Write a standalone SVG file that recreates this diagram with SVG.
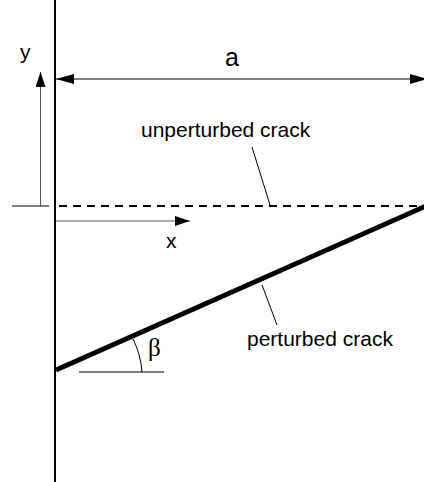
<svg xmlns="http://www.w3.org/2000/svg" width="424" height="482" viewBox="0 0 424 482">
<defs>
<style>
.t{font-family:"Liberation Sans",Arial,sans-serif;fill:#000}
.thin{stroke:#000;stroke-width:1;fill:none}
.gray{stroke:#555;stroke-width:1;fill:none}
</style>
<marker id="ah" viewBox="0 0 18 10" refX="18" refY="5" markerWidth="18" markerHeight="10" markerUnits="userSpaceOnUse" orient="auto-start-reverse">
<path d="M0,0 L18,5 L0,10 Z" fill="#000"/>
</marker>
<marker id="ah2" viewBox="0 0 15 10" refX="15" refY="5" markerWidth="15" markerHeight="10" markerUnits="userSpaceOnUse" orient="auto">
<path d="M0,0 L15,5 L0,10 Z" fill="#000"/>
</marker>
</defs>
<rect width="424" height="482" fill="#fff"/>
<g id="connectors">
<line id="axis" x1="55" y1="0" x2="55" y2="482" stroke="#000" stroke-width="2"/>
<line id="dim-a" x1="56" y1="79" x2="428" y2="79" class="thin" marker-start="url(#ah)" marker-end="url(#ah)"/>
<line id="y-arrow" x1="40.5" y1="206" x2="40.5" y2="72" class="gray" marker-end="url(#ah2)"/>
<line id="y-tick" x1="12" y1="206" x2="49" y2="206" class="thin"/>
<line id="x-arrow" x1="56" y1="221" x2="190" y2="221" class="gray" marker-end="url(#ah2)"/>
<line id="unperturbed" x1="59" y1="206" x2="424" y2="206" stroke="#000" stroke-width="1.8" stroke-dasharray="8 6"/>
<line id="perturbed" x1="56" y1="370" x2="426" y2="206" stroke="#000" stroke-width="5"/>
<line id="leader-u" x1="252" y1="147" x2="270" y2="205" class="thin"/>
<line id="leader-p" x1="262" y1="285" x2="277" y2="325" class="thin"/>
<line id="beta-base" x1="79" y1="372" x2="164" y2="372" class="thin"/>
<path id="beta-arc" d="M133,339 A87,87 0 0 1 142,372" class="thin"/>
</g>
<g id="label-a"><text x="225" y="66" class="t" font-size="25">a</text></g>
<g id="label-y"><text x="20" y="59" class="t" font-size="21">y</text></g>
<g id="label-x"><text x="166" y="248" class="t" font-size="21">x</text></g>
<g id="label-unperturbed"><text x="141" y="137" class="t" font-size="21">unperturbed crack</text></g>
<g id="label-perturbed"><text x="247" y="346" class="t" font-size="21">perturbed crack</text></g>
<g id="label-beta"><text x="148" y="356" font-family="'Liberation Serif','DejaVu Serif',serif" font-size="25">β</text></g>
</svg>
